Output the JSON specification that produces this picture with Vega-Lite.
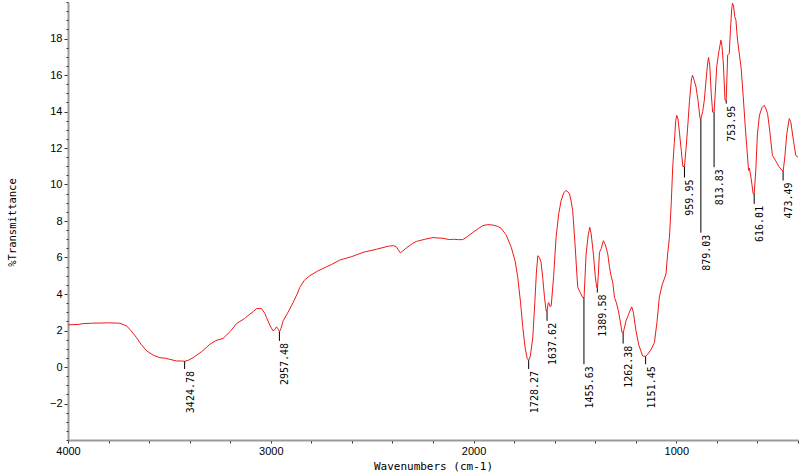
{
  "$schema": "https://vega.github.io/schema/vega-lite/v6.json",
  "width": 730,
  "height": 438,
  "autosize": "none",
  "padding": {"left": 68, "top": 2, "right": 2, "bottom": 34},
  "background": "white",
  "config": {
    "view": {"stroke": null},
    "axis": {
      "grid": false,
      "domainColor": "#9a9a9a",
      "domainWidth": 2,
      "tickColor": "#333333",
      "labelFont": "Liberation Sans",
      "labelFontSize": 11,
      "labelColor": "#000000",
      "labelFlush": false,
      "labelOverlap": false,
      "titleFont": "DejaVu Sans Mono",
      "titleFontSize": 11,
      "titleFontWeight": "normal",
      "titleColor": "#000000"
    }
  },
  "datasets": {
    "spectrum": [
      {"wn": 4000, "t": 2.31}, {"wn": 3950, "t": 2.33}, {"wn": 3925, "t": 2.38}, {"wn": 3880, "t": 2.4},
      {"wn": 3800, "t": 2.42}, {"wn": 3744, "t": 2.4}, {"wn": 3711, "t": 2.25}, {"wn": 3690, "t": 2.0},
      {"wn": 3662, "t": 1.61}, {"wn": 3640, "t": 1.25}, {"wn": 3612, "t": 0.88}, {"wn": 3580, "t": 0.65},
      {"wn": 3547, "t": 0.51}, {"wn": 3520, "t": 0.48}, {"wn": 3498, "t": 0.42}, {"wn": 3465, "t": 0.33},
      {"wn": 3440, "t": 0.33}, {"wn": 3425, "t": 0.31}, {"wn": 3405, "t": 0.38}, {"wn": 3383, "t": 0.51},
      {"wn": 3340, "t": 0.85}, {"wn": 3300, "t": 1.25}, {"wn": 3270, "t": 1.45}, {"wn": 3235, "t": 1.57},
      {"wn": 3200, "t": 1.95}, {"wn": 3169, "t": 2.38}, {"wn": 3130, "t": 2.65}, {"wn": 3103, "t": 2.9},
      {"wn": 3085, "t": 3.05}, {"wn": 3070, "t": 3.2}, {"wn": 3046, "t": 3.2}, {"wn": 3030, "t": 2.95},
      {"wn": 3021, "t": 2.71}, {"wn": 3005, "t": 2.3}, {"wn": 2989, "t": 1.98}, {"wn": 2980, "t": 2.05},
      {"wn": 2972, "t": 2.2}, {"wn": 2965, "t": 2.1}, {"wn": 2957, "t": 1.93}, {"wn": 2950, "t": 2.1},
      {"wn": 2939, "t": 2.53}, {"wn": 2915, "t": 3.0}, {"wn": 2890, "t": 3.53}, {"wn": 2870, "t": 4.0},
      {"wn": 2857, "t": 4.36}, {"wn": 2835, "t": 4.75}, {"wn": 2808, "t": 5.0}, {"wn": 2770, "t": 5.25},
      {"wn": 2726, "t": 5.49}, {"wn": 2700, "t": 5.62}, {"wn": 2660, "t": 5.86}, {"wn": 2600, "t": 6.05},
      {"wn": 2545, "t": 6.28}, {"wn": 2480, "t": 6.45}, {"wn": 2420, "t": 6.62}, {"wn": 2395, "t": 6.65},
      {"wn": 2381, "t": 6.59}, {"wn": 2370, "t": 6.4}, {"wn": 2361, "t": 6.26}, {"wn": 2350, "t": 6.35},
      {"wn": 2332, "t": 6.52}, {"wn": 2300, "t": 6.78}, {"wn": 2282, "t": 6.88}, {"wn": 2240, "t": 7.0},
      {"wn": 2200, "t": 7.09}, {"wn": 2150, "t": 7.05}, {"wn": 2120, "t": 6.98}, {"wn": 2100, "t": 7.0},
      {"wn": 2075, "t": 6.98}, {"wn": 2053, "t": 6.98}, {"wn": 2030, "t": 7.15}, {"wn": 2003, "t": 7.38},
      {"wn": 1975, "t": 7.6}, {"wn": 1954, "t": 7.75}, {"wn": 1930, "t": 7.8}, {"wn": 1905, "t": 7.78},
      {"wn": 1880, "t": 7.7}, {"wn": 1864, "t": 7.6}, {"wn": 1840, "t": 7.25}, {"wn": 1814, "t": 6.56},
      {"wn": 1795, "t": 5.8}, {"wn": 1782, "t": 4.91}, {"wn": 1768, "t": 3.5}, {"wn": 1757, "t": 2.16},
      {"wn": 1745, "t": 1.0}, {"wn": 1735, "t": 0.45}, {"wn": 1728, "t": 0.37}, {"wn": 1720, "t": 0.6},
      {"wn": 1708, "t": 1.61}, {"wn": 1698, "t": 3.5}, {"wn": 1690, "t": 5.2}, {"wn": 1683, "t": 6.1},
      {"wn": 1675, "t": 6.0}, {"wn": 1667, "t": 5.73}, {"wn": 1659, "t": 4.91}, {"wn": 1650, "t": 3.8},
      {"wn": 1642, "t": 3.08}, {"wn": 1637, "t": 3.1}, {"wn": 1632, "t": 3.5}, {"wn": 1629, "t": 3.53},
      {"wn": 1622, "t": 3.3}, {"wn": 1617, "t": 3.35}, {"wn": 1605, "t": 5.0}, {"wn": 1593, "t": 7.1},
      {"wn": 1580, "t": 8.4}, {"wn": 1568, "t": 9.12}, {"wn": 1555, "t": 9.55}, {"wn": 1544, "t": 9.67},
      {"wn": 1535, "t": 9.6}, {"wn": 1527, "t": 9.49}, {"wn": 1519, "t": 9.1}, {"wn": 1511, "t": 8.57},
      {"wn": 1500, "t": 6.8}, {"wn": 1490, "t": 5.0}, {"wn": 1486, "t": 4.36}, {"wn": 1475, "t": 4.1},
      {"wn": 1462, "t": 3.81}, {"wn": 1455, "t": 3.8}, {"wn": 1450, "t": 5.0}, {"wn": 1445, "t": 6.19},
      {"wn": 1435, "t": 7.2}, {"wn": 1427, "t": 7.66}, {"wn": 1420, "t": 7.3}, {"wn": 1409, "t": 6.19},
      {"wn": 1400, "t": 5.0}, {"wn": 1393, "t": 4.36}, {"wn": 1389, "t": 4.3}, {"wn": 1385, "t": 5.0},
      {"wn": 1379, "t": 6.28}, {"wn": 1370, "t": 6.5}, {"wn": 1360, "t": 6.92}, {"wn": 1350, "t": 6.7},
      {"wn": 1338, "t": 6.19}, {"wn": 1330, "t": 5.5}, {"wn": 1322, "t": 5.0}, {"wn": 1313, "t": 4.6},
      {"wn": 1305, "t": 3.81}, {"wn": 1295, "t": 3.5}, {"wn": 1286, "t": 3.08}, {"wn": 1275, "t": 2.4},
      {"wn": 1268, "t": 1.89}, {"wn": 1262, "t": 1.88}, {"wn": 1255, "t": 2.2}, {"wn": 1248, "t": 2.53},
      {"wn": 1235, "t": 2.9}, {"wn": 1220, "t": 3.3}, {"wn": 1212, "t": 3.0}, {"wn": 1199, "t": 1.98},
      {"wn": 1185, "t": 1.2}, {"wn": 1166, "t": 0.6}, {"wn": 1151, "t": 0.58}, {"wn": 1141, "t": 0.7},
      {"wn": 1125, "t": 0.95}, {"wn": 1108, "t": 1.34}, {"wn": 1095, "t": 2.5}, {"wn": 1084, "t": 3.81},
      {"wn": 1070, "t": 4.5}, {"wn": 1051, "t": 5.09}, {"wn": 1043, "t": 6.19}, {"wn": 1034, "t": 7.1},
      {"wn": 1025, "t": 9.0}, {"wn": 1018, "t": 10.9}, {"wn": 1010, "t": 12.3}, {"wn": 1003, "t": 13.5},
      {"wn": 998, "t": 13.79}, {"wn": 992, "t": 13.6}, {"wn": 984, "t": 12.78}, {"wn": 975, "t": 11.8},
      {"wn": 968, "t": 10.99}, {"wn": 960, "t": 10.98}, {"wn": 952, "t": 12.0}, {"wn": 944, "t": 13.15},
      {"wn": 935, "t": 14.6}, {"wn": 925, "t": 15.8}, {"wn": 920, "t": 15.99}, {"wn": 912, "t": 15.7},
      {"wn": 903, "t": 15.35}, {"wn": 893, "t": 14.6}, {"wn": 883, "t": 13.61}, {"wn": 879, "t": 13.6},
      {"wn": 870, "t": 14.0}, {"wn": 862, "t": 14.62}, {"wn": 852, "t": 15.9}, {"wn": 845, "t": 16.7},
      {"wn": 841, "t": 16.96}, {"wn": 835, "t": 16.5}, {"wn": 828, "t": 15.0}, {"wn": 821, "t": 13.97},
      {"wn": 814, "t": 13.95}, {"wn": 808, "t": 15.0}, {"wn": 801, "t": 16.45}, {"wn": 790, "t": 17.3},
      {"wn": 780, "t": 17.91}, {"wn": 775, "t": 17.6}, {"wn": 768, "t": 16.6}, {"wn": 760, "t": 14.62},
      {"wn": 754, "t": 14.6}, {"wn": 750, "t": 16.0}, {"wn": 747, "t": 17.09}, {"wn": 739, "t": 17.18},
      {"wn": 733, "t": 18.5}, {"wn": 727, "t": 19.6}, {"wn": 723, "t": 19.93}, {"wn": 718, "t": 19.8},
      {"wn": 712, "t": 19.2}, {"wn": 706, "t": 19.0}, {"wn": 702, "t": 18.4}, {"wn": 698, "t": 17.91},
      {"wn": 690, "t": 17.2}, {"wn": 681, "t": 16.45}, {"wn": 670, "t": 14.8}, {"wn": 660, "t": 13.15},
      {"wn": 652, "t": 12.0}, {"wn": 644, "t": 10.77}, {"wn": 640, "t": 10.9}, {"wn": 632, "t": 10.4},
      {"wn": 621, "t": 9.49}, {"wn": 616, "t": 9.5}, {"wn": 608, "t": 10.8}, {"wn": 600, "t": 12.78},
      {"wn": 590, "t": 13.8}, {"wn": 578, "t": 14.2}, {"wn": 567, "t": 14.34}, {"wn": 560, "t": 14.2},
      {"wn": 550, "t": 13.88}, {"wn": 540, "t": 13.0}, {"wn": 526, "t": 11.59}, {"wn": 510, "t": 11.3},
      {"wn": 495, "t": 11.0}, {"wn": 479, "t": 10.77}, {"wn": 473, "t": 10.75}, {"wn": 465, "t": 11.5},
      {"wn": 455, "t": 12.8}, {"wn": 443, "t": 13.61}, {"wn": 435, "t": 13.4}, {"wn": 425, "t": 12.6},
      {"wn": 411, "t": 11.59}, {"wn": 400, "t": 11.5}
    ],
    "peaks": [
      {"wn": 3424.78, "t": 0.31, "end": -0.11, "label": "3424.78"},
      {"wn": 2957.48, "t": 1.93, "end": 1.43, "label": "2957.48"},
      {"wn": 1728.27, "t": 0.37, "end": -0.11, "label": "1728.27"},
      {"wn": 1637.62, "t": 3.1, "end": 2.53, "label": "1637.62"},
      {"wn": 1455.63, "t": 3.8, "end": 0.15, "label": "1455.63"},
      {"wn": 1389.58, "t": 4.3, "end": 4.08, "label": "1389.58"},
      {"wn": 1262.38, "t": 1.88, "end": 1.28, "label": "1262.38"},
      {"wn": 1151.45, "t": 0.58, "end": 0.15, "label": "1151.45"},
      {"wn": 959.95, "t": 10.98, "end": 10.38, "label": "959.95"},
      {"wn": 879.03, "t": 13.6, "end": 7.36, "label": "879.03"},
      {"wn": 813.83, "t": 13.95, "end": 10.95, "label": "813.83"},
      {"wn": 753.95, "t": 14.6, "end": 14.43, "label": "753.95"},
      {"wn": 616.01, "t": 9.5, "end": 8.94, "label": "616.01"},
      {"wn": 473.49, "t": 10.75, "end": 10.22, "label": "473.49"}
    ]
  },
  "encoding": {
    "x": {
      "field": "wn",
      "type": "quantitative",
      "scale": {"domain": [400, 4000], "reverse": true, "nice": false, "zero": false},
      "axis": {
        "title": "Wavenumbers (cm-1)",
        "values": [4000, 3800, 3600, 3400, 3200, 3000, 2800, 2600, 2400, 2200, 2000, 1800, 1600, 1400, 1200, 1000, 800, 600, 400],
        "format": "d",
        "labelExpr": "datum.value % 1000 == 0 ? datum.label : ''",
        "tickSize": 3,
        "labelPadding": 2,
        "titleY": 26,
        "titleBaseline": "middle"
      }
    }
  },
  "resolve": {"axis": {"y": "independent"}},
  "layer": [
    {
      "data": {"name": "spectrum"},
      "mark": {"type": "line", "color": "#f01818", "strokeWidth": 1, "interpolate": "linear"},
      "encoding": {
        "y": {
          "field": "t",
          "type": "quantitative",
          "scale": {"domain": [-4, 20], "nice": false, "zero": false},
          "axis": {
            "orient": "left",
            "title": "%Transmittance",
            "titleFontSize": 10.5,
            "values": [-2, 0, 2, 4, 6, 8, 10, 12, 14, 16, 18],
            "format": "d",
            "tickSize": 4,
            "labelPadding": 2,
            "titleX": -56,
            "titleY": 220,
            "titleAlign": "center",
            "titleBaseline": "middle",
            "titleAngle": 270
          }
        },
        "order": {"field": "wn", "sort": "descending"}
      }
    },
    {
      "data": {"name": "peaks"},
      "mark": {"type": "rule", "color": "#000000", "strokeWidth": 1},
      "encoding": {
        "y": {
          "field": "t",
          "type": "quantitative",
          "axis": {
            "orient": "left",
            "title": null,
            "labels": false,
            "domain": false,
            "values": [-4, -3.5, -3, -2.5, -1.5, -1, -0.5, 0.5, 1, 1.5, 2.5, 3, 3.5, 4.5, 5, 5.5, 6.5, 7, 7.5, 8.5, 9, 9.5, 10.5, 11, 11.5, 12.5, 13, 13.5, 14.5, 15, 15.5, 16.5, 17, 17.5, 18.5, 19, 19.5, 20],
            "tickSize": 2
          }
        },
        "y2": {"field": "end"}
      }
    },
    {
      "data": {"name": "peaks"},
      "mark": {"type": "text", "angle": 270, "align": "right", "baseline": "top", "dx": -2, "dy": 1, "font": "DejaVu Sans Mono", "fontSize": 10, "color": "#000000"},
      "encoding": {
        "y": {"field": "end", "type": "quantitative", "axis": null},
        "text": {"field": "label"}
      }
    }
  ]
}
